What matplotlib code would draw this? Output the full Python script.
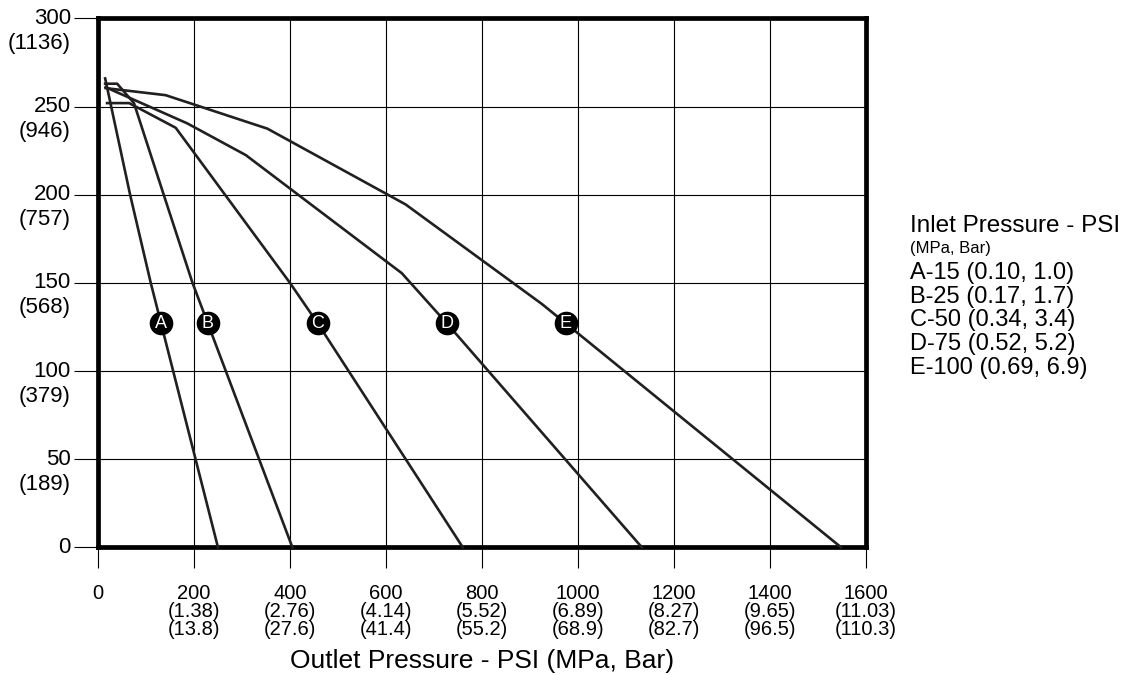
import matplotlib.pyplot as plt
import numpy as np

plt.rcParams['font.family'] = ['Liberation Sans', 'DejaVu Sans']

# outlet pressure axis (psi) with MPa / bar equivalents
x_ticks = [0, 200, 400, 600, 800, 1000, 1200, 1400, 1600]
x_mpa = ['', '(1.38)', '(2.76)', '(4.14)', '(5.52)', '(6.89)', '(8.27)', '(9.65)', '(11.03)']
x_bar = ['', '(13.8)', '(27.6)', '(41.4)', '(55.2)', '(68.9)', '(82.7)', '(96.5)', '(110.3)']

# flow axis with metric equivalents
y_ticks = [0, 50, 100, 150, 200, 250, 300]
y_metric = ['', '(189)', '(379)', '(568)', '(757)', '(946)', '(1136)']

# one curve per inlet pressure
a_x = [15, 67, 110, 250]
a_y = [266, 200, 150, 0]
b_x = [15, 40, 75, 137, 197, 405]
b_y = [263, 263, 252, 200, 150, 0]
c_x = [19, 65, 162, 400, 458, 760]
c_y = [252, 252, 238, 150, 127, 0]
d_x = [16, 186, 308, 633, 727, 1133]
d_y = [261, 240.5, 222.5, 155.5, 127, 0]
e_x = [16, 141, 353, 641, 925, 1548]
e_y = [260.5, 256.5, 237.5, 194.5, 138, 0]
curve_names = ['A', 'B', 'C', 'D', 'E']
label_y = 127

legend_title = 'Inlet Pressure - PSI'
legend_units = '(MPa, Bar)'
legend_lines = ['A-15 (0.10, 1.0)', 'B-25 (0.17, 1.7)', 'C-50 (0.34, 3.4)',
                'D-75 (0.52, 5.2)', 'E-100 (0.69, 6.9)']

fig = plt.figure(figsize=(11.39, 6.75), dpi=100)
ax = fig.add_axes([0.0860, 0.1892, 0.6743, 0.7834])
ax.set_xlim(0, 1600)
ax.set_ylim(0, 300)

ax.set_xticks(x_ticks)
ax.set_yticks(y_ticks)
ax.set_xticklabels([])
ax.set_yticklabels([])
ax.tick_params(axis='x', length=15, width=0.8, direction='out', color='black')
ax.tick_params(axis='y', length=17, width=0.8, direction='out', color='black')
ax.grid(color='black', linewidth=0.8)
ax.set_axisbelow(True)
for sp in ax.spines.values():
    sp.set_linewidth(3.4)
    sp.set_color('black')

curves = [(a_x, a_y), (b_x, b_y), (c_x, c_y), (d_x, d_y), (e_x, e_y)]
for name, (xs, ys) in zip(curve_names, curves):
    ax.plot(xs, ys, color='#231f20', linewidth=1.9, zorder=3, clip_on=False)
    # letter badge sits on the curve at a common height
    lx = np.interp(label_y, ys[::-1], xs[::-1])
    ax.plot(lx, label_y, 'o', ms=16, color='black', zorder=4)
    ax.text(lx, label_y, name, color='white', ha='center', va='center',
            fontsize=13, zorder=5)

# y tick labels: psi value with metric value below
for v, m in zip(y_ticks, y_metric):
    ax.annotate(str(v), xy=(0, v), xycoords=('axes fraction', 'data'),
                xytext=(-27, 0), textcoords='offset pixels',
                ha='right', va='center', fontsize=16)
    if m:
        ax.annotate(m, xy=(0, v), xycoords=('axes fraction', 'data'),
                    xytext=(-27, -25), textcoords='offset pixels',
                    ha='right', va='center', fontsize=16)

# x tick labels: three rows
for v, mp, br in zip(x_ticks, x_mpa, x_bar):
    for row, txt in enumerate([str(v), mp, br]):
        if txt:
            ax.annotate(txt, xy=(v, 0), xycoords=('data', 'axes fraction'),
                        xytext=(0, -46 - 18 * row), textcoords='offset pixels',
                        ha='center', va='center', fontsize=14.5)

fig.text(0.4232, 1 - 661 / 675, 'Outlet Pressure - PSI (MPa, Bar)',
         ha='center', va='center', fontsize=19)

# legend block on the right
lx0 = 910 / 1139
fig.text(lx0, 1 - 226 / 675, legend_title, ha='left', va='center', fontsize=17.5)
fig.text(lx0, 1 - 249 / 675, legend_units, ha='left', va='center', fontsize=12)
for i, line in enumerate(legend_lines):
    fig.text(lx0, 1 - (273 + 23.7 * i) / 675, line,
             ha='left', va='center', fontsize=17)

fig.savefig('out.png', dpi=100)
